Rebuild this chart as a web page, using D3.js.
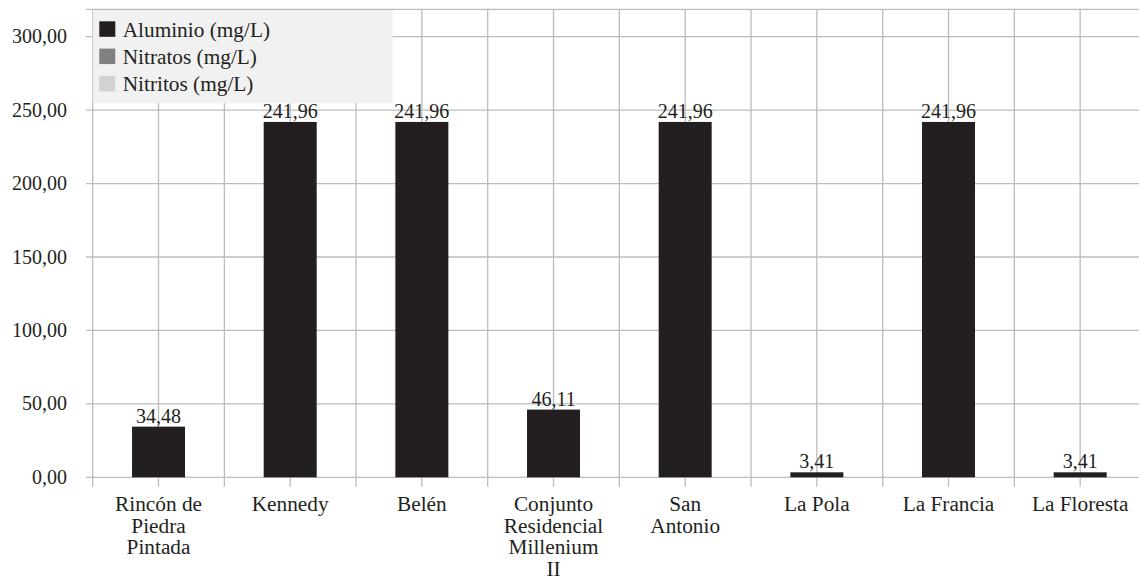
<!DOCTYPE html>
<html>
<head>
<meta charset="utf-8">
<script src="https://cdn.jsdelivr.net/npm/d3@7"></script>
</head>
<body style="margin:0;padding:0;background:#fff">
<svg id="chart" width="1139" height="579" style="display:block"></svg>
<script>
const categories = [
  ["Rincón de","Piedra","Pintada"],
  ["Kennedy"],
  ["Belén"],
  ["Conjunto","Residencial","Millenium","II"],
  ["San","Antonio"],
  ["La Pola"],
  ["La Francia"],
  ["La Floresta"]
];
const aluminio = [34.48, 241.96, 241.96, 46.11, 241.96, 3.41, 241.96, 3.41];
const valueLabels = ["34,48","241,96","241,96","46,11","241,96","3,41","241,96","3,41"];
const seriesNames = ["Aluminio (mg/L)","Nitratos (mg/L)","Nitritos (mg/L)"];
const seriesColors = ["#231f20","#808080","#d2d2d2"];
const yTicks = [0,50,100,150,200,250,300];
const yTickLabels = ["0,00","50,00","100,00","150,00","200,00","250,00","300,00"];

(function(){
const svg = d3.select("#chart");
const pLeft = 92.7, pRight = 1146, pTop = 9.3, pBottom = 477.3;
const fsNum = 20, fsTxt = 21.3;
const grid = "#bcbcbe";
const ff = "Liberation Serif";
const ink = "#231f20";

const keys = categories.map((c,i)=>i);
const x = d3.scaleBand().domain(keys).range([pLeft,pRight]).paddingInner(0).paddingOuter(0);
const y = d3.scaleLinear().domain([0,300]).range([pBottom,36.7]);

const g = svg.append("g");
g.selectAll("line.h").data(yTicks).join("line")
  .attr("x1",86).attr("x2",pRight).attr("y1",d=>y(d)).attr("y2",d=>y(d))
  .attr("stroke",grid).attr("stroke-width",1.3);
g.append("line").attr("x1",86).attr("x2",pRight).attr("y1",pTop).attr("y2",pTop)
  .attr("stroke",grid).attr("stroke-width",1.3);

const vx = [];
keys.forEach(k=>{ vx.push(x(k)); vx.push(x(k)+x.bandwidth()/2); });
vx.push(x(keys[keys.length-1])+x.bandwidth());
g.selectAll("line.v").data(vx).join("line")
  .attr("x1",d=>d).attr("x2",d=>d).attr("y1",pTop).attr("y2",pBottom+9.5)
  .attr("stroke",grid).attr("stroke-width",1.3);

svg.append("g").selectAll("text").data(yTicks).join("text")
  .attr("x",67).attr("y",d=>y(d)).attr("dy","0.33em")
  .attr("text-anchor","end").attr("font-size",fsNum).attr("font-family",ff).attr("fill",ink)
  .text((d,i)=>yTickLabels[i]);

const bw = 53;
svg.append("g").selectAll("rect").data(aluminio).join("rect")
  .attr("x",(d,i)=>x(i)+x.bandwidth()/2-bw/2).attr("width",bw)
  .attr("y",d=>y(d)).attr("height",d=>pBottom-y(d))
  .attr("fill",seriesColors[0]);

svg.append("g").selectAll("text").data(aluminio).join("text")
  .attr("x",(d,i)=>x(i)+x.bandwidth()/2).attr("y",d=>y(d)-4)
  .attr("text-anchor","middle").attr("font-size",fsNum).attr("font-family",ff).attr("fill",ink)
  .text((d,i)=>valueLabels[i]);

const xl = svg.append("g");
categories.forEach((lines,i)=>{
  const t = xl.append("text").attr("text-anchor","middle").attr("font-size",fsTxt).attr("font-family",ff).attr("fill",ink);
  lines.forEach((ln,j)=>{
    t.append("tspan").attr("x",x(i)+x.bandwidth()/2).attr("y",511+j*21.7).text(ln);
  });
});

const lg = svg.append("g");
lg.append("rect").attr("x",pLeft).attr("y",10).attr("width",300).attr("height",93.3).attr("fill","#f1f1f2");
seriesNames.forEach((n,i)=>{
  const cy = 29 + i*27.3;
  lg.append("rect").attr("x",99.3).attr("y",cy-7.7).attr("width",16).attr("height",15.5).attr("fill",seriesColors[i]);
  lg.append("text").attr("x",122.7).attr("y",cy+7.5).attr("font-size",fsTxt).attr("font-family",ff).attr("fill",ink).text(n);
});
})();
</script>
</body>
</html>
